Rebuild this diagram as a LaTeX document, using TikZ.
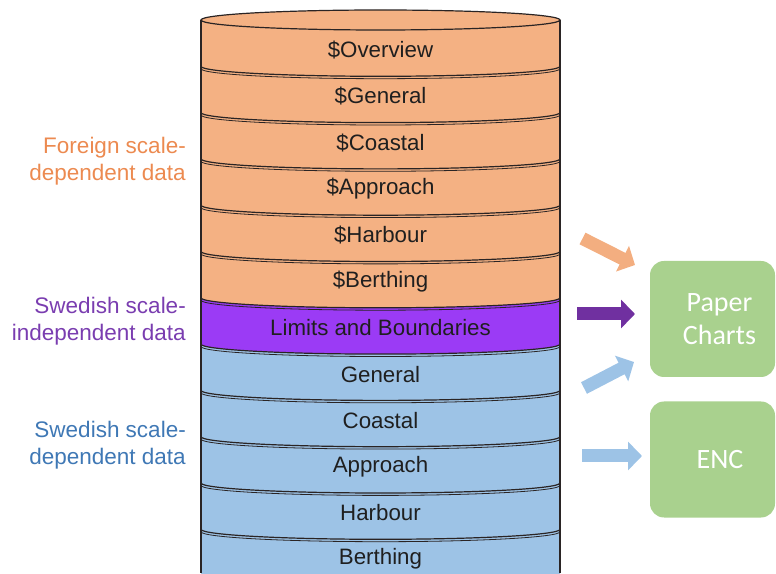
\documentclass[tikz,border=0pt]{standalone}
\usepackage{fontspec}
\setmainfont{Liberation Sans}
\newfontfamily\calibrifont{Carlito}
\usetikzlibrary{arrows.meta}
\definecolor{orfill}{HTML}{F4B183}
\definecolor{pufill}{HTML}{9B3BF5}
\definecolor{blfill}{HTML}{9DC3E6}
\definecolor{grfill}{HTML}{A9D18E}
\definecolor{ortext}{HTML}{EC8A50}
\definecolor{putext}{HTML}{7A3DB0}
\definecolor{bltext}{HTML}{3F78B5}
\definecolor{outl}{HTML}{2A2424}
\definecolor{orarrow}{HTML}{F3AE80}
\definecolor{puarrow}{HTML}{7030A0}
\definecolor{blarrow}{HTML}{9DC3E6}
\tikzset{
  layertext/.style={font=\fontsize{22.3}{26}\selectfont, text=black!88, inner sep=0pt},
  sidelabel/.style={font=\fontsize{22.5}{27}\selectfont, align=right, anchor=east, inner sep=0pt},
  outbox/.style={draw=none, fill=grfill, rounded corners=14pt, minimum width=125pt, minimum height=116pt, inner sep=0pt},
  outtext/.style={font=\calibrifont\fontsize{28}{33}\selectfont, text=white, align=center, inner sep=0pt},
  blockarrow/.style={line width=13pt, -{Triangle[length=14pt,width=28pt]}},
  divider/.style={draw=outl, line width=1.2pt}
}
\begin{document}
\begin{tikzpicture}[x=1pt,y=1pt]
\useasboundingbox (0,0) rectangle (776,573);
\begin{scope}
\clip (0,0) rectangle (776,573);
% layers
\foreach \k/\col in {0/orfill,1/orfill,2/orfill,3/orfill,4/orfill,5/orfill,6/pufill,7/blfill,8/blfill,9/blfill,10/blfill,11/blfill}{
  \pgfmathsetmacro{\Ta}{553-46.3*\k}
  \pgfmathsetmacro{\Tb}{553-46.3*(\k+1)}
  \fill[\col] (201,\Ta) -- (201,\Tb) arc[start angle=180,end angle=360,x radius=179.5,y radius=10]
     -- (560,\Ta) arc[start angle=0,end angle=-180,x radius=179.5,y radius=10] -- cycle;
}
% top ellipse
\filldraw[fill=orfill, divider] (380.5,553) ellipse[x radius=179.5, y radius=10];
% sides
\draw[divider] (201,553) -- (201,0);
\draw[divider] (560,553) -- (560,0);
% dividers
\foreach \k in {1,...,12}{
  \pgfmathsetmacro{\Ta}{553-46.3*\k}
  \pgfmathsetmacro{\Tc}{553-46.3*\k-2.4}
  \draw[divider] (201,\Ta) arc[start angle=180,end angle=360,x radius=179.5,y radius=10];
  \draw[draw=outl, line width=0.8pt] (201,\Tc) arc[start angle=180,end angle=360,x radius=179.5,y radius=10];
}
\end{scope}
% layer labels
\node[layertext] (L0) at (380.5,523) {\$Overview};
\node[layertext] (L1) at (380.5,476.7) {\$General};
\node[layertext] (L2) at (380.5,430.4) {\$Coastal};
\node[layertext] (L3) at (380.5,384.1) {\$Approach};
\node[layertext] (L4) at (380.5,337.8) {\$Harbour};
\node[layertext] (L5) at (380.5,291.5) {\$Berthing};
\node[layertext] (L6) at (380.5,245.2) {Limits and Boundaries};
\node[layertext] (L7) at (380.5,198.9) {General};
\node[layertext] (L8) at (380.5,152.6) {Coastal};
\node[layertext] (L9) at (380.5,106.3) {Approach};
\node[layertext] (L10) at (380.5,60) {Harbour};
\node[layertext] (L11) at (380.5,14.5) {Berthing};
% side labels
\node[sidelabel, text=ortext] (foreign) at (186,411.5) {Foreign scale-\\dependent data};
\node[sidelabel, text=putext] (swind) at (186,251.5) {Swedish scale-\\independent data};
\node[sidelabel, text=bltext] (swdep) at (186,128) {Swedish scale-\\dependent data};
% output boxes
\node[outbox] (paper) at (712.5,254) {};
\node[outtext] (papertext) at (719.5,254) {Paper\\Charts};
\node[outbox] (enc) at (712.5,113.5) {};
\node[outtext] (enctext) at (720,113.5) {ENC};
% arrows
\coordinate (oa1) at (582.5,334.5); \coordinate (oa2) at (635,308);
\coordinate (pa1) at (577,259);     \coordinate (pa2) at (635,259);
\coordinate (ba1) at (584,185);     \coordinate (ba2) at (634,211);
\coordinate (ea1) at (582,117);     \coordinate (ea2) at (642,117);
\draw[blockarrow, draw=orarrow, fill=orarrow] (oa1) -- (oa2);
\draw[blockarrow, draw=puarrow, fill=puarrow] (pa1) -- (pa2);
\draw[blockarrow, draw=blarrow, fill=blarrow] (ba1) -- (ba2);
\draw[blockarrow, draw=blarrow, fill=blarrow] (ea1) -- (ea2);
\end{tikzpicture}
\end{document}
